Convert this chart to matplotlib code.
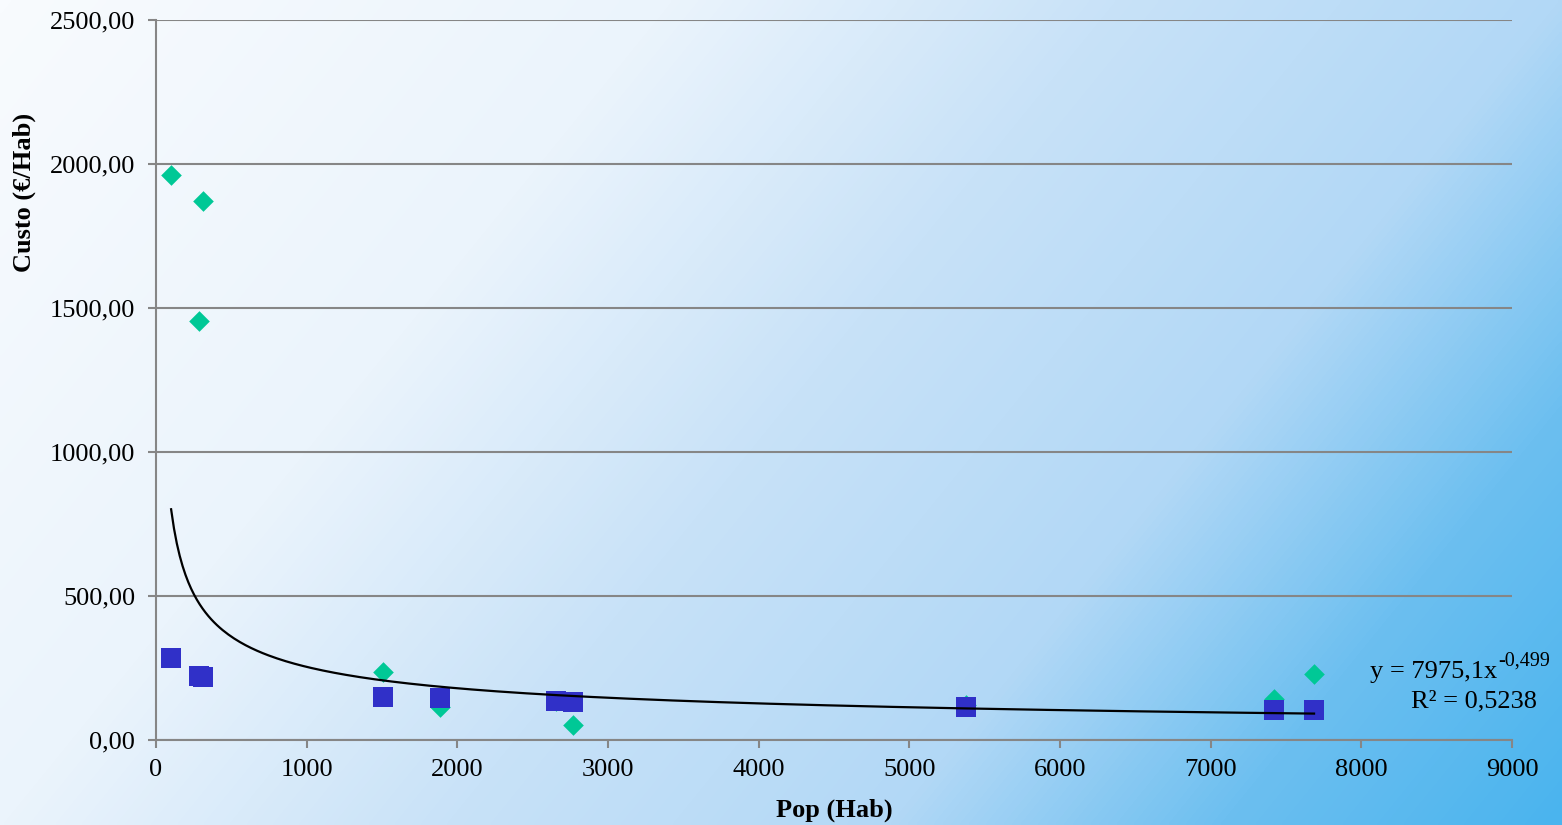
import numpy as np
import matplotlib
matplotlib.use("Agg")
import matplotlib.pyplot as plt
from matplotlib.colors import LinearSegmentedColormap

plt.rcParams['font.family'] = ['Liberation Serif', 'DejaVu Serif']

# data
pop = [100, 285, 312, 1507, 1885, 2655, 2768, 5376, 7420, 7686]
custo_total = [1962, 1455, 1872, 236, 115, 135, 52, 121, 143, 229]
custo_hab = [285, 222, 219, 149, 146, 134, 132, 113, 104, 104]

# power trendline shown on the chart: y = 7975,1 x^-0,499
coef_a = 7975.1
coef_b = -0.499
r2 = 0.5238

y_ticks = [0, 500, 1000, 1500, 2000, 2500]
x_ticks = [0, 1000, 2000, 3000, 4000, 5000, 6000, 7000, 8000, 9000]

fig = plt.figure(figsize=(15.62, 8.25), dpi=100)

# gradient background
bg = fig.add_axes([0, 0, 1, 1], zorder=-10)
W, H = 400, 220
xx, yy = np.meshgrid(np.linspace(0, 1, W), np.linspace(0, 1, H))
t = 0.7 * xx + 0.3 * yy
cmap = LinearSegmentedColormap.from_list("bg", [
    (0.0, "#f8fbfe"), (0.3, "#ebf4fc"), (0.5, "#c8e2f8"),
    (0.7, "#b2d8f6"), (0.85, "#6cbff0"), (1.0, "#4ab4ee")])
bg.imshow(t, cmap=cmap, aspect="auto", extent=[0, 1, 0, 1], origin="upper",
          vmin=0, vmax=1, interpolation="bilinear")
bg.axis("off")

ax = fig.add_axes([0.0999, 0.103, 0.8681, 0.8728])
ax.set_facecolor("none")

ax.scatter(pop, custo_total, marker="D", s=10.5**2, color="#00c896",
           linewidths=0, zorder=3)
ax.scatter(pop, custo_hab, marker="s", s=14**2, color="#3030c8",
           linewidths=0, zorder=4)

xf = np.linspace(min(pop), max(pop), 400)
ax.plot(xf, coef_a * xf ** coef_b, color="black", lw=1.6, zorder=5)

fs = 19
ax.set_xlim(0, 9000)
ax.set_ylim(0, 2500)
ax.set_xticks(x_ticks)
ax.set_yticks(y_ticks)
ax.set_xticklabels([str(v) for v in x_ticks])
ax.set_yticklabels([f"{v},00" for v in y_ticks])
ax.tick_params(axis="both", labelsize=fs, colors="#868686", labelcolor="black",
               length=6, width=1.5, direction="out")
ax.tick_params(axis="x", pad=8)
ax.tick_params(axis="y", pad=9)

ax.grid(axis="y", color="#868686", lw=1.5)
ax.set_axisbelow(True)
for s in ["top", "right"]:
    ax.spines[s].set_visible(False)
for s in ["left", "bottom"]:
    ax.spines[s].set_color("#868686")
    ax.spines[s].set_linewidth(1.5)

ax.set_xlabel("Pop (Hab)", fontsize=fs, fontweight="bold")
ax.set_ylabel("Custo (€/Hab)", fontsize=fs, fontweight="bold")
ax.xaxis.set_label_coords(0.5, -0.082)
ax.yaxis.set_label_coords(-0.0885, 0.76)

# trendline equation
fig.text(1497 / 1562, 1 - 678 / 825, "y = 7975,1x", fontsize=fs,
         ha="right", va="baseline")
fig.text(1498 / 1562, 1 - 666 / 825, "-0,499", fontsize=14.5,
         ha="left", va="baseline")
fig.text(1537 / 1562, 1 - 707 / 825, f"R² = {str(r2).replace('.', ',')}",
         fontsize=fs, ha="right", va="baseline")

fig.savefig("out.png", dpi=100)
